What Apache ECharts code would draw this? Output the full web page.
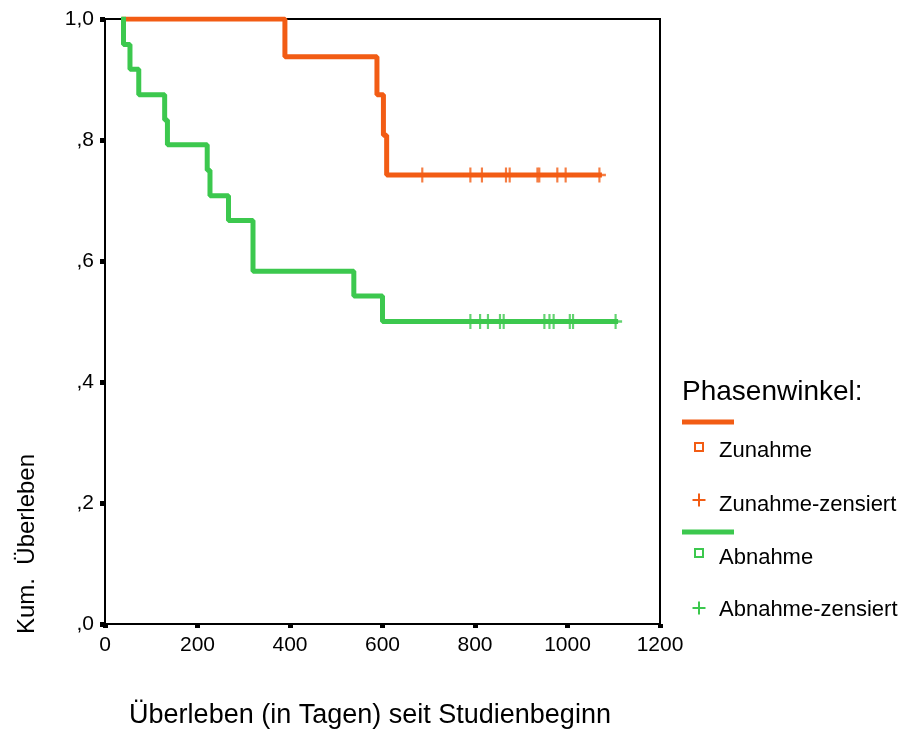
<!DOCTYPE html>
<html>
<head>
<meta charset="utf-8">
<script src="https://cdn.jsdelivr.net/npm/echarts@6/dist/echarts.min.js"></script>
<style>
html,body{margin:0;padding:0;background:#fff;}
#chart{width:900px;height:729px;}
</style>
</head>
<body>
<div id="chart"></div>
<script>
// ---- data ----
const xTicks = [0, 200, 400, 600, 800, 1000, 1200];
const yTickLabels = { '0': ',0', '0.2': ',2', '0.4': ',4', '0.6': ',6', '0.8': ',8', '1': '1,0' };

// Zunahme (orange): curve start, event times and survival after each event
const zunahmeStart = 42;
const zunahmeEventDays = [389, 588, 602, 609];
const zunahmeEventSurv = [0.9375, 0.875, 0.808, 0.742];
const zunahmeCensorDays = [686, 790, 815, 867, 875, 935, 939, 978, 996, 1069];

// Abnahme (green)
const abnahmeStart = 40;
const abnahmeEventDays = [40, 54, 73, 129, 135, 221, 227, 267, 320, 538, 600];
const abnahmeEventSurv = [0.958, 0.917, 0.875, 0.833, 0.792, 0.75, 0.708, 0.667, 0.583, 0.542, 0.5];
const abnahmeCensorDays = [790, 811, 828, 854, 862, 950, 961, 970, 1005, 1012, 1104];

const legendTitle = 'Phasenwinkel:';
const seriesNames = ['Zunahme', 'Zunahme-zensiert', 'Abnahme', 'Abnahme-zensiert'];

// ---- helpers ----
function survAt(days, surv, t) {
  let v = 1;
  for (let i = 0; i < days.length; i++) if (days[i] <= t) v = surv[i];
  return v;
}
function stepData(start, days, surv, censors) {
  const d = [[start, 1]];
  for (let i = 0; i < days.length; i++) d.push([days[i], surv[i]]);
  const last = censors[censors.length - 1];
  d.push([last, survAt(days, surv, last)]);
  return d;
}
function censorData(days, surv, censors) {
  return censors.map(t => [t, survAt(days, surv, t)]);
}

const ORANGE = '#F25C14';
const GREEN = '#3CC84E';
const FONT = 'Liberation Sans, Arial, Helvetica, sans-serif';
const plusPath = 'path://M5,0h2v5h5v2h-5v5h-2v-5h-5v-2h5z';

const chart = echarts.init(document.getElementById('chart'), null, { renderer: 'canvas' });

function legendItems() {
  const g = [];
  const lx = 682, mx = 699, tx = 719;
  g.push({ type: 'text', x: lx, y: 392, style: { text: legendTitle, font: '28px ' + FONT, fill: '#000', textVerticalAlign: 'middle' } });
  const groups = [
    { color: ORANGE, lineY: 422, sqY: 447, t1Y: 451, plY: 500, t2Y: 505, n1: seriesNames[0], n2: seriesNames[1] },
    { color: GREEN, lineY: 532, sqY: 553, t1Y: 558, plY: 608, t2Y: 610, n1: seriesNames[2], n2: seriesNames[3] }
  ];
  groups.forEach(o => {
    g.push({ type: 'line', shape: { x1: lx, y1: o.lineY, x2: 734, y2: o.lineY }, style: { stroke: o.color, lineWidth: 5 } });
    g.push({ type: 'rect', shape: { x: mx - 4, y: o.sqY - 4, width: 8, height: 8 }, style: { stroke: o.color, fill: '#fff', lineWidth: 2 } });
    g.push({ type: 'text', x: tx, y: o.t1Y, style: { text: o.n1, font: '22px ' + FONT, fill: '#000', textVerticalAlign: 'middle' } });
    g.push({ type: 'line', shape: { x1: mx - 6.5, y1: o.plY, x2: mx + 6.5, y2: o.plY }, style: { stroke: o.color, lineWidth: 2 } });
    g.push({ type: 'line', shape: { x1: mx, y1: o.plY - 6.5, x2: mx, y2: o.plY + 6.5 }, style: { stroke: o.color, lineWidth: 2 } });
    g.push({ type: 'text', x: tx, y: o.t2Y, style: { text: o.n2, font: '22px ' + FONT, fill: '#000', textVerticalAlign: 'middle' } });
  });
  // axis titles
  g.push({ type: 'text', x: 370, y: 716, style: { text: 'Überleben (in Tagen) seit Studienbeginn', font: '27px ' + FONT, fill: '#000', textAlign: 'center', textVerticalAlign: 'middle' } });
  g.push({ type: 'text', x: 27, y: 544, rotation: Math.PI / 2, style: { text: 'Kum.  Überleben', font: '24px ' + FONT, fill: '#000', textAlign: 'center', textVerticalAlign: 'middle' } });
  return g;
}

const option = {
  animation: false,
  backgroundColor: '#fff',
  grid: { left: 105, top: 19, right: 240, bottom: 105, show: true, borderColor: '#000', borderWidth: 2, backgroundColor: 'transparent' },
  xAxis: {
    type: 'value', min: xTicks[0], max: xTicks[xTicks.length - 1], interval: 200,
    axisLine: { show: true, lineStyle: { color: '#000', width: 2 } },
    axisTick: { show: true, length: 4, lineStyle: { color: '#000', width: 5 } },
    axisLabel: { color: '#000', fontFamily: FONT, fontSize: 21, margin: 11, showMaxLabel: true, showMinLabel: true,
      formatter: v => String(v) },
    splitLine: { show: false }
  },
  yAxis: {
    type: 'value', min: 0, max: 1, interval: 0.2,
    axisLine: { show: true, lineStyle: { color: '#000', width: 2 } },
    axisTick: { show: true, length: 5, lineStyle: { color: '#000', width: 5 } },
    axisLabel: { color: '#000', fontFamily: FONT, fontSize: 21, margin: 11,
      formatter: v => yTickLabels[String(Math.round(v * 10) / 10)] },
    splitLine: { show: false }
  },
  series: [
    { name: seriesNames[0], type: 'line', step: 'end', showSymbol: false, symbol: 'none',
      lineStyle: { color: ORANGE, width: 5, cap: 'square' }, z: 3,
      data: stepData(zunahmeStart, zunahmeEventDays, zunahmeEventSurv, zunahmeCensorDays) },
    { name: seriesNames[1], type: 'scatter', symbol: plusPath, symbolSize: [13, 15],
      itemStyle: { color: ORANGE }, z: 4,
      data: censorData(zunahmeEventDays, zunahmeEventSurv, zunahmeCensorDays) },
    { name: seriesNames[2], type: 'line', step: 'end', showSymbol: false, symbol: 'none',
      lineStyle: { color: GREEN, width: 5, cap: 'square' }, z: 3,
      data: stepData(abnahmeStart, abnahmeEventDays, abnahmeEventSurv, abnahmeCensorDays) },
    { name: seriesNames[3], type: 'scatter', symbol: plusPath, symbolSize: [13, 15],
      itemStyle: { color: GREEN }, z: 4,
      data: censorData(abnahmeEventDays, abnahmeEventSurv, abnahmeCensorDays) }
  ],
  graphic: legendItems()
};
chart.setOption(option);
</script>
</body>
</html>
